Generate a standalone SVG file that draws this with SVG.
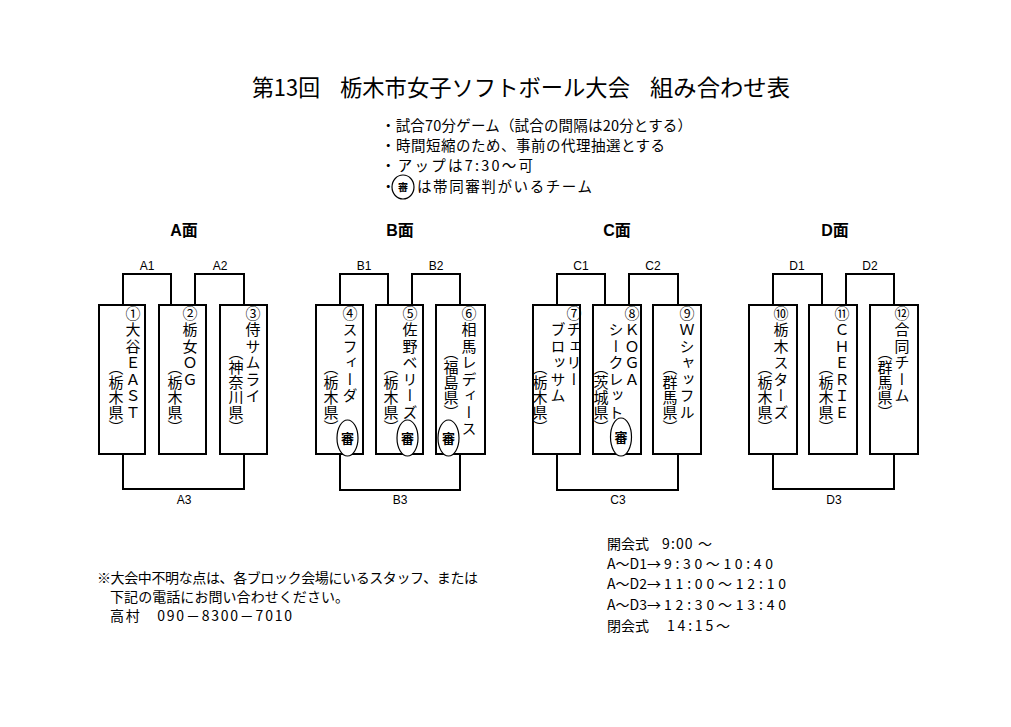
<svg xmlns="http://www.w3.org/2000/svg" width="1011" height="727" viewBox="0 0 1011 727">
<style>
.bg{fill:#fff}
.jp{font-family:"Noto Sans CJK JP","Noto Sans CJK SC",sans-serif;fill:#000}
.t{font-size:14px}
.n{font-size:14.5px}
.title{font-size:22.5px}
.hdr{font-family:"Liberation Sans","Noto Sans CJK JP",sans-serif;font-size:16px;font-weight:bold;text-anchor:middle}
.lbl{font-family:"Liberation Sans",Arial,sans-serif;font-size:12px;text-anchor:middle;fill:#000}
.box{fill:none;stroke:#000;stroke-width:2}
.conn{fill:none;stroke:#000;stroke-width:2}
.v{font-family:"Noto Sans CJK JP",sans-serif;font-size:15px;writing-mode:vertical-rl;fill:#000}
.r{letter-spacing:1.5px}
.ref{fill:#fff;stroke:#000;stroke-width:1.2}
.reft{font-family:"Noto Sans CJK JP",sans-serif;font-size:13px;font-weight:bold;text-anchor:middle;fill:#000}
</style>
<rect class="bg" x="0" y="0" width="1011" height="727"/>

<g id="title">
<text class="jp title" x="252" y="96" textLength="68" lengthAdjust="spacingAndGlyphs">第13回</text>
<text class="jp title" x="340" y="96" textLength="290" lengthAdjust="spacingAndGlyphs">栃木市女子ソフトボール大会</text>
<text class="jp title" x="650" y="96" textLength="140" lengthAdjust="spacingAndGlyphs">組み合わせ表</text>
</g>

<g id="notes">
<text class="jp n" x="381" y="131" textLength="311" lengthAdjust="spacing">・試合70分ゲーム（試合の間隔は20分とする）</text>
<text class="jp n" x="381" y="151" textLength="284" lengthAdjust="spacing">・時間短縮のため、事前の代理抽選とする</text>
<text class="jp n" x="381" y="171" textLength="152" lengthAdjust="spacing">・アップは7:30～可</text>
<text class="jp n" x="381" y="192">・</text>
<ellipse class="ref" cx="403" cy="187" rx="11" ry="12"/>
<text class="reft" x="403" y="191" style="font-size:10px">審</text>
<text class="jp n" x="417" y="192" textLength="175" lengthAdjust="spacing">は帯同審判がいるチーム</text>
</g>

<g id="headers">
<text class="hdr" x="184" y="236">A面</text>
<text class="hdr" x="400" y="236">B面</text>
<text class="hdr" x="617" y="236">C面</text>
<text class="hdr" x="835" y="236">D面</text>
</g>

<g id="connectors">
<path class="conn" d="M123 305V274H171V305"/>
<path class="conn" d="M195 305V274H244V305"/>
<path class="conn" d="M123 454V489H244V454"/>
<path class="conn" d="M340 305V274H388V305"/>
<path class="conn" d="M412 305V274H460V305"/>
<path class="conn" d="M340 454V490H460V454"/>
<path class="conn" d="M557 305V274H605V305"/>
<path class="conn" d="M629 305V274H678V305"/>
<path class="conn" d="M557 454V490H678V454"/>
<path class="conn" d="M773 305V274H822V305"/>
<path class="conn" d="M846 305V274H894V305"/>
<path class="conn" d="M773 454V489H894V454"/>
<text class="lbl" x="147" y="270">A1</text>
<text class="lbl" x="220" y="270">A2</text>
<text class="lbl" x="184" y="504">A3</text>
<text class="lbl" x="364" y="270">B1</text>
<text class="lbl" x="436" y="270">B2</text>
<text class="lbl" x="400" y="504">B3</text>
<text class="lbl" x="581" y="270">C1</text>
<text class="lbl" x="653" y="270">C2</text>
<text class="lbl" x="618" y="504">C3</text>
<text class="lbl" x="797" y="270">D1</text>
<text class="lbl" x="870" y="270">D2</text>
<text class="lbl" x="834" y="504">D3</text>
</g>

<g id="team1">
<rect class="box" x="99" y="305" width="46" height="149"/>
<text class="v r" x="133" y="305.5">①大谷ＥＡＳＴ</text>
<text class="v" x="116" y="360">（栃木県）</text>
</g>
<g id="team2">
<rect class="box" x="159" y="305" width="47" height="149"/>
<text class="v r" x="190" y="305.5">②栃女ＯＧ</text>
<text class="v" x="175" y="360">（栃木県）</text>
</g>
<g id="team3">
<rect class="box" x="220" y="305" width="47" height="149"/>
<text class="v r" x="253" y="305.5">③侍サムライ</text>
<text class="v" x="236" y="345">（神奈川県）</text>
</g>

<g id="team4">
<rect class="box" x="316" y="305" width="47" height="149"/>
<text class="v r" x="350" y="305.5">④スフィーダ</text>
<text class="v" x="331" y="360">（栃木県）</text>
<ellipse class="ref" cx="347.5" cy="438" rx="10.5" ry="18"/>
<text class="reft" x="347.5" y="443">審</text>
</g>
<g id="team5">
<rect class="box" x="376" y="305" width="47" height="149"/>
<text class="v r" x="410" y="305.5">⑤佐野ベリーズ</text>
<text class="v" x="391" y="360">（栃木県）</text>
<ellipse class="ref" cx="407.5" cy="438" rx="10.5" ry="18"/>
<text class="reft" x="407.5" y="443">審</text>
</g>
<g id="team6">
<rect class="box" x="436" y="305" width="49" height="149"/>
<text class="v r" x="469" y="305.5">⑥相馬レディース</text>
<text class="v" x="451" y="345">（福島県）</text>
<ellipse class="ref" cx="448.5" cy="438" rx="10.5" ry="18"/>
<text class="reft" x="448.5" y="443">審</text>
</g>

<g id="team7">
<rect class="box" x="533" y="305" width="47" height="149"/>
<text class="v r" x="574" y="305.5">⑦チェリー</text>
<text class="v r" x="558" y="322">ブロッサム</text>
<text class="v" x="540" y="360">（栃木県）</text>
</g>
<g id="team8">
<rect class="box" x="593" y="305" width="48" height="149"/>
<text class="v r" x="632" y="305.5">⑧ＫＯＧＡ</text>
<text class="v r" x="616" y="322">シークレット</text>
<text class="v" x="601" y="360">（茨城県）</text>
<ellipse class="ref" cx="621" cy="437" rx="10.5" ry="19"/>
<text class="reft" x="621" y="442">審</text>
</g>
<g id="team9">
<rect class="box" x="653" y="305" width="48" height="149"/>
<text class="v r" x="687" y="305.5">⑨Ｗシャッフル</text>
<text class="v" x="670" y="360">（群馬県）</text>
</g>

<g id="team10">
<rect class="box" x="749" y="305" width="48" height="149"/>
<text class="v r" x="781" y="305.5">⑩栃木スターズ</text>
<text class="v" x="765" y="360">（栃木県）</text>
</g>
<g id="team11">
<rect class="box" x="809" y="305" width="48" height="149"/>
<text class="v r" x="842" y="305.5">⑪ＣＨＥＲＩＥ</text>
<text class="v" x="826" y="360">（栃木県）</text>
</g>
<g id="team12">
<rect class="box" x="870" y="305" width="48" height="149"/>
<text class="v r" x="902" y="305.5">⑫合同チーム</text>
<text class="v" x="885" y="345">（群馬県）</text>
</g>

<g id="contact">
<text class="jp t" x="97" y="583" textLength="381" lengthAdjust="spacing">※大会中不明な点は、各ブロック会場にいるスタッフ、または</text>
<text class="jp t" x="110" y="602" textLength="239" lengthAdjust="spacing">下記の電話にお問い合わせください。</text>
<text class="jp t" x="110" y="621" textLength="182" lengthAdjust="spacing">高村　090－8300－7010</text>
</g>

<g id="schedule">
<text class="jp t" x="607" y="549">開会式 <tspan x="662" textLength="50" lengthAdjust="spacing">9:00 ～</tspan></text>
<text class="jp t" x="607" y="569">A～D1→<tspan x="664" textLength="109" lengthAdjust="spacing">9:30～10:40</tspan></text>
<text class="jp t" x="607" y="589">A～D2→<tspan x="664" textLength="122" lengthAdjust="spacing">11:00～12:10</tspan></text>
<text class="jp t" x="607" y="610">A～D3→<tspan x="664" textLength="122" lengthAdjust="spacing">12:30～13:40</tspan></text>
<text class="jp t" x="607" y="631">閉会式 <tspan x="667" textLength="63" lengthAdjust="spacing">14:15～</tspan></text>
</g>
</svg>
